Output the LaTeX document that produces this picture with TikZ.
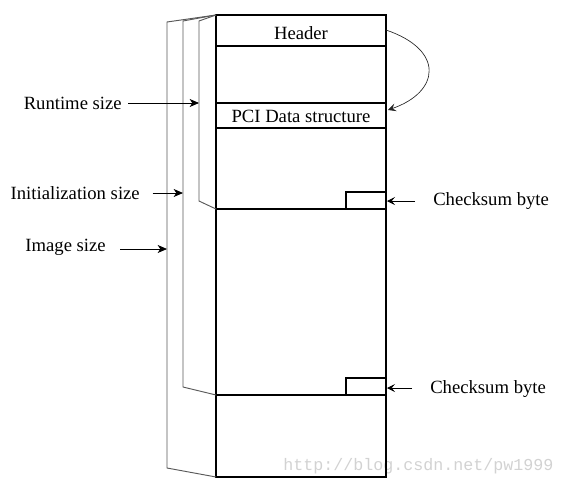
\documentclass[tikz,border=0pt]{standalone}
\usepackage{fontspec}
\setmainfont{Liberation Serif}
\setmonofont{Liberation Mono}
\usetikzlibrary{arrows.meta}

\begin{document}
\begin{tikzpicture}[x=0.75pt, y=-0.75pt,
    lbl/.style={font=\fontsize{14}{16}\selectfont, inner sep=0pt},
    wall/.style={line width=1.5pt},
    cut/.style={line width=2.2pt},
    bracket/.style={gray!70!black, line width=0.7pt},
    ptr/.style={-{Stealth[length=7pt, width=6pt, inset=2pt]}, line width=0.6pt},
    thinptr/.style={-{Stealth[length=6pt, width=6pt, inset=2.5pt]}, line width=0.5pt}]
    \useasboundingbox (0,0) rectangle (566,489);

    % Watermark
    \node[font=\ttfamily\fontsize{12.5}{14}\selectfont, text=gray!35, anchor=west, inner sep=0pt] (mark) at (283,466) {http://blog.csdn.net/pw1999};

    % Image layout
    \draw[wall] (216,15) rectangle (386,477);
    \draw[wall] (216,46) -- (386,46);
    \draw[line width=0.9pt] (216,103) rectangle (386,128);
    \node[lbl] (header) at (301,33) {Header};
    \node[lbl] (pcids) at (301,116) {PCI Data structure};

    % Checksum bytes and section ends
    \foreach \y in {209, 395} {
        \draw[line width=0.8pt] (346,\y) -- (346,\y-17) -- (386,\y-17);
        \draw[cut] (216,\y) -- (386,\y);
    }

    % Size brackets
    \draw[bracket] (216,15) -- (167,22) -- (167,468) -- (216,477);
    \draw[bracket] (216,15) -- (183,21) -- (183,387) -- (216,395);
    \draw[bracket] (216,15) -- (199,21) -- (199,201) -- (216,209);

    % Size labels
    \coordinate (rtend) at (199,103);
    \coordinate (initend) at (183,193);
    \coordinate (imgend) at (167,249);
    \node[lbl, anchor=east] (runtime) at (122,103) {Runtime size};
    \node[lbl, anchor=east] (init) at (140,193) {Initialization size};
    \node[lbl, anchor=east] (img) at (106,247) {Image size};
    \draw[ptr, shorten <=4.5pt] (runtime.east) -- (rtend);
    \draw[ptr, shorten <=9.5pt] (init.east) -- (initend);
    \draw[ptr, shorten <=10.5pt] (img.east |- imgend) -- (imgend);

    % Checksum labels
    \coordinate (csa) at (387,201);
    \coordinate (csb) at (387,388);
    \node[lbl, anchor=west] (checka) at (433,201) {Checksum byte};
    \node[lbl, anchor=west] (checkb) at (430,389) {Checksum byte};
    \draw[thinptr, shorten <=13.5pt] (checka.west) -- (csa);
    \draw[thinptr, shorten <=13.5pt] (checkb.west |- csb) -- (csb);

    % Pointer from header
    \coordinate (hdr) at (386,30);
    \coordinate (pci) at (388,110);
    \draw[thinptr, gray!30!black] (hdr) .. controls (445,50) and (440,92) .. (pci);
\end{tikzpicture}
\end{document}
